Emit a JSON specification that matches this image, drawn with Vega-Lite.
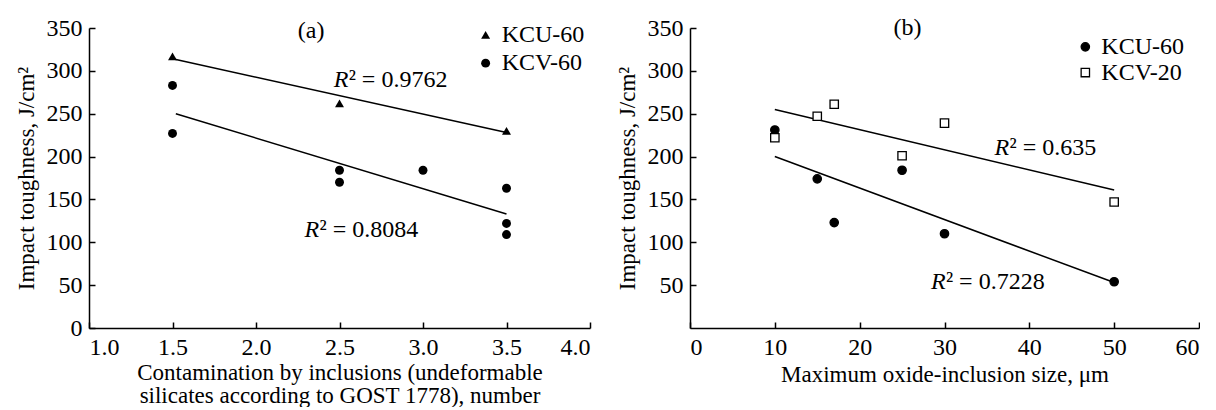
{
  "$schema": "https://vega.github.io/schema/vega-lite/v6.json",
  "background": "white",
  "padding": {"left": 15, "top": 16, "right": 0, "bottom": 0},
  "spacing": 25,
  "resolve": {"scale": {"shape": "independent", "fill": "independent"}},
  "config": {
    "font": "Liberation Serif",
    "view": {"stroke": null},
    "axis": {
      "grid": false, "domainColor": "black", "tickColor": "black", "labelColor": "black", "titleColor": "black",
      "labelFont": "Liberation Serif", "titleFont": "Liberation Serif", "labelFontSize": 24, "titleFontSize": 23,
      "titleFontWeight": "normal", "tickSize": -6, "domainWidth": 1.5, "tickWidth": 1.5, "labelPadding": 13, "titleLineHeight": 23
    },
    "text": {"font": "Liberation Serif", "fontSize": 24, "color": "black"}
  },
  "datasets": {
    "a_points": [
      {"series": "KCU-60", "x": 1.5, "y": 317},
      {"series": "KCU-60", "x": 2.5, "y": 262},
      {"series": "KCU-60", "x": 3.5, "y": 230},
      {"series": "KCV-60", "x": 1.5, "y": 283},
      {"series": "KCV-60", "x": 1.5, "y": 227},
      {"series": "KCV-60", "x": 2.5, "y": 184},
      {"series": "KCV-60", "x": 2.5, "y": 170},
      {"series": "KCV-60", "x": 3.0, "y": 184},
      {"series": "KCV-60", "x": 3.5, "y": 163},
      {"series": "KCV-60", "x": 3.5, "y": 122},
      {"series": "KCV-60", "x": 3.5, "y": 109}
    ],
    "a_trend": [
      {"series": "KCU-60", "x": 1.5, "y": 314},
      {"series": "KCU-60", "x": 3.5, "y": 228},
      {"series": "KCV-60", "x": 1.52, "y": 250},
      {"series": "KCV-60", "x": 3.5, "y": 133}
    ],
    "a_tag": [{"x": 2.25, "y": 346, "text": "(a)"}],
    "a_r2": [
      {"x": 2.465, "y": 289, "rest": "² = 0.9762"},
      {"x": 2.29, "y": 114, "rest": "² = 0.8084"}
    ],
    "a_legend": [
      {"series": "KCU-60", "x": 3.375, "y": 342},
      {"series": "KCV-60", "x": 3.375, "y": 309}
    ],
    "b_points": [
      {"series": "KCU-60", "x": 10, "y": 231},
      {"series": "KCU-60", "x": 15, "y": 174},
      {"series": "KCU-60", "x": 17, "y": 123},
      {"series": "KCU-60", "x": 25, "y": 184},
      {"series": "KCU-60", "x": 30, "y": 110},
      {"series": "KCU-60", "x": 50, "y": 54},
      {"series": "KCV-20", "x": 10, "y": 222},
      {"series": "KCV-20", "x": 15, "y": 247},
      {"series": "KCV-20", "x": 17, "y": 261},
      {"series": "KCV-20", "x": 25, "y": 201},
      {"series": "KCV-20", "x": 30, "y": 239},
      {"series": "KCV-20", "x": 50, "y": 147}
    ],
    "b_trend": [
      {"series": "KCV-20", "x": 10, "y": 255},
      {"series": "KCV-20", "x": 50, "y": 161},
      {"series": "KCU-60", "x": 10, "y": 200},
      {"series": "KCU-60", "x": 50, "y": 53}
    ],
    "b_tag": [{"x": 24.0, "y": 350, "text": "(b)"}],
    "b_r2": [
      {"x": 35.9, "y": 210, "rest": "² = 0.635"},
      {"x": 28.4, "y": 54, "rest": "² = 0.7228"}
    ],
    "b_legend": [
      {"series": "KCU-60", "x": 46.6, "y": 328},
      {"series": "KCV-20", "x": 46.6, "y": 298}
    ]
  },
  "hconcat": [
    {
      "width": 501,
      "height": 300,
      "encoding": {
        "x": {"field": "x", "type": "quantitative", "scale": {"domain": [1, 4], "nice": false},
          "axis": {"values": [1, 1.5, 2, 2.5, 3, 3.5, 4], "format": ".1f",
            "title": ["Contamination by inclusions (undeformable", "silicates according to GOST 1778), number"], "titlePadding": 2}},
        "y": {"field": "y", "type": "quantitative", "scale": {"domain": [0, 350], "nice": false},
          "axis": {"values": [0, 50, 100, 150, 200, 250, 300, 350], "title": "Impact toughness, J/cm²", "titlePadding": 8}}
      },
      "layer": [
        {"data": {"name": "a_trend"}, "mark": {"type": "line", "color": "black", "strokeWidth": 1.5},
          "encoding": {"detail": {"field": "series"}}},
        {"data": {"name": "a_points"}, "mark": {"type": "point", "filled": true, "color": "black", "size": 80, "opacity": 1},
          "encoding": {"shape": {"field": "series", "scale": {"domain": ["KCU-60", "KCV-60"], "range": ["triangle-up", "circle"]}, "legend": null}}},
        {"data": {"name": "a_legend"}, "mark": {"type": "point", "filled": true, "color": "black", "size": 80, "opacity": 1},
          "encoding": {"shape": {"field": "series", "scale": {"domain": ["KCU-60", "KCV-60"], "range": ["triangle-up", "circle"]}, "legend": null}}},
        {"data": {"name": "a_legend"}, "mark": {"type": "text", "align": "left", "baseline": "middle", "dx": 16},
          "encoding": {"text": {"field": "series"}}},
        {"data": {"name": "a_tag"}, "mark": {"type": "text", "align": "left", "baseline": "middle"},
          "encoding": {"text": {"field": "text"}}},
        {"data": {"name": "a_r2"}, "mark": {"type": "text", "align": "left", "baseline": "middle", "fontStyle": "italic", "text": "R"},
          "encoding": {}},
        {"data": {"name": "a_r2"}, "mark": {"type": "text", "align": "left", "baseline": "middle", "dx": 15},
          "encoding": {"text": {"field": "rest"}}}
      ]
    },
    {
      "width": 509,
      "height": 300,
      "encoding": {
        "x": {"field": "x", "type": "quantitative", "scale": {"domain": [0, 60], "nice": false},
          "axis": {"values": [0, 10, 20, 30, 40, 50, 60], "title": "Maximum oxide-inclusion size, μm", "titlePadding": 4}},
        "y": {"field": "y", "type": "quantitative", "scale": {"domain": [0, 350], "nice": false},
          "axis": {"values": [50, 100, 150, 200, 250, 300, 350], "title": "Impact toughness, J/cm²", "titlePadding": 8}}
      },
      "layer": [
        {"data": {"name": "b_trend"}, "mark": {"type": "line", "color": "black", "strokeWidth": 1.5},
          "encoding": {"detail": {"field": "series"}}},
        {"data": {"name": "b_points"}, "mark": {"type": "point", "filled": true, "stroke": "black", "strokeWidth": 1.3, "size": 70, "opacity": 1},
          "encoding": {
            "shape": {"field": "series", "scale": {"domain": ["KCU-60", "KCV-20"], "range": ["circle", "square"]}, "legend": null},
            "fill": {"field": "series", "scale": {"domain": ["KCU-60", "KCV-20"], "range": ["black", "white"]}, "legend": null}}},
        {"data": {"name": "b_legend"}, "mark": {"type": "point", "filled": true, "stroke": "black", "strokeWidth": 1.3, "size": 70, "opacity": 1},
          "encoding": {
            "shape": {"field": "series", "scale": {"domain": ["KCU-60", "KCV-20"], "range": ["circle", "square"]}, "legend": null},
            "fill": {"field": "series", "scale": {"domain": ["KCU-60", "KCV-20"], "range": ["black", "white"]}, "legend": null}}},
        {"data": {"name": "b_legend"}, "mark": {"type": "text", "align": "left", "baseline": "middle", "dx": 16},
          "encoding": {"text": {"field": "series"}}},
        {"data": {"name": "b_tag"}, "mark": {"type": "text", "align": "left", "baseline": "middle"},
          "encoding": {"text": {"field": "text"}}},
        {"data": {"name": "b_r2"}, "mark": {"type": "text", "align": "left", "baseline": "middle", "fontStyle": "italic", "text": "R"},
          "encoding": {}},
        {"data": {"name": "b_r2"}, "mark": {"type": "text", "align": "left", "baseline": "middle", "dx": 15},
          "encoding": {"text": {"field": "rest"}}}
      ]
    }
  ]
}
